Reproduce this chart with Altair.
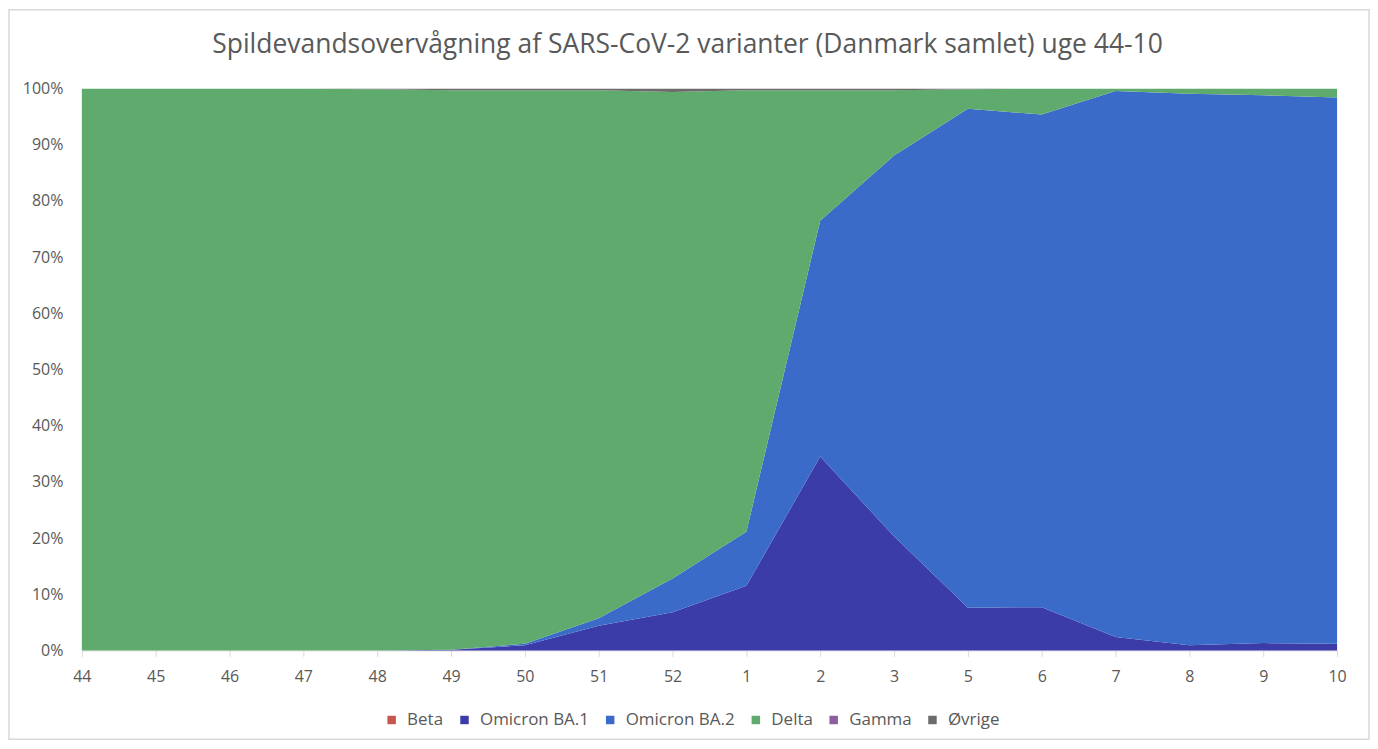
import altair as alt
import pandas as pd

weeks = ["44", "45", "46", "47", "48", "49", "50", "51", "52", "1", "2", "3", "5", "6", "7", "8", "9", "10"]
series = ["Beta", "Omicron BA.1", "Omicron BA.2", "Delta", "Gamma", "Øvrige"]
colors = ["#C5574E", "#3C3CA8", "#3A6BC8", "#5FAB6E", "#8C5DA0", "#6E6A6A"]

beta = [0, 0, 0, 0, 0, 0, 0, 0, 0, 0, 0, 0, 0, 0, 0, 0, 0, 0]
ba1 = [0, 0, 0, 0, 0, 0.1, 0.9, 4.4, 6.8, 11.5, 34.5, 20.3, 7.6, 7.7, 2.4, 0.9, 1.3, 1.2]
ba2 = [0, 0, 0, 0, 0, 0, 0.3, 1.3, 6.0, 9.6, 42.0, 67.8, 88.8, 87.7, 97.2, 98.2, 97.5, 97.2]
delta = [100, 100, 100, 100, 99.9, 99.6, 98.5, 94.0, 86.6, 78.6, 23.2, 11.6, 3.5, 4.6, 0.4, 0.9, 1.2, 1.6]
gamma = [0, 0, 0, 0, 0, 0, 0, 0, 0, 0, 0, 0, 0, 0, 0, 0, 0, 0]
ovrige = [0, 0, 0, 0, 0.1, 0.3, 0.3, 0.3, 0.6, 0.3, 0.3, 0.3, 0.1, 0, 0, 0, 0, 0]

values = [beta, ba1, ba2, delta, gamma, ovrige]
rows = []
for si, (name, vals) in enumerate(zip(series, values)):
    for w, v in zip(weeks, vals):
        rows.append({"uge": w, "variant": name, "andel": v, "idx": si})
df = pd.DataFrame(rows)

TXT = "#595959"
FONT = "Open Sans"

area = alt.Chart(df).mark_area(interpolate="linear").encode(
    x=alt.X("uge:O", sort=weeks, title=None,
            scale=alt.Scale(type="point", padding=0),
            axis=alt.Axis(labelAngle=0, labelFontSize=16, labelColor=TXT, labelFont=FONT,
                          domainColor="#D9D9D9", tickColor="#D9D9D9", tickSize=6,
                          labelPadding=12, grid=False)),
    y=alt.Y("andel:Q", stack="zero", title=None,
            scale=alt.Scale(domain=[0, 100], nice=False),
            axis=alt.Axis(values=[0, 10, 20, 30, 40, 50, 60, 70, 80, 90, 100],
                          labelExpr="datum.value + '%'", labelFontSize=16, labelColor=TXT,
                          labelFont=FONT, domain=False, ticks=False, grid=False, labelPadding=19)),
    color=alt.Color("variant:N", sort=series,
                    scale=alt.Scale(domain=series, range=colors),
                    legend=alt.Legend(orient="none", legendX=302, legendY=624,
                                      direction="horizontal", title=None,
                                      symbolType="square", symbolSize=72, labelFontSize=17,
                                      labelColor=TXT, labelFont=FONT, columnPadding=12,
                                      labelOffset=7, symbolStrokeWidth=0)),
    order=alt.Order("idx:Q", sort="ascending"),
)

border = alt.Chart(pd.DataFrame({"a": [0]})).mark_rect(
    fill=None, stroke="#D9D9D9", strokeWidth=1.5
).encode(
    x=alt.value(-73), x2=alt.value(1290), y=alt.value(-79), y2=alt.value(652)
)

chart = alt.layer(area, border).properties(
    width=1258, height=563,
    title=alt.TitleParams("Spildevandsovervågning af SARS-CoV-2 varianter (Danmark samlet) uge 44-10",
                          fontSize=26.5, font=FONT, fontWeight="normal", color=TXT,
                          anchor="middle", frame="group", offset=26, dy=76, dx=-22),
    autosize=alt.AutoSizeParams(type="none"),
    padding={"left": 74, "top": 80, "right": 33, "bottom": 90},
).configure_view(stroke=None)

chart.save("out.html", embed_options={"renderer": "svg", "actions": False})
